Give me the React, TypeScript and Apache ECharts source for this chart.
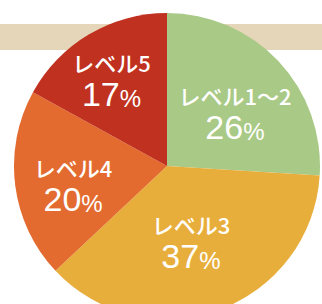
import React, { useEffect, useRef } from "react";
import * as echarts from "echarts";

const categories = ["レベル1〜2", "レベル3", "レベル4", "レベル5"];
const values = [26, 37, 20, 17];
const colors = ["#a9c986", "#e8ae3c", "#e36b30", "#c0311f"];
const labelOffsets: [number, number][] = [
  [10, 0],
  [-3, 0],
  [-15, 8],
  [-15, -19],
];

export default function App() {
  const ref = useRef<HTMLDivElement>(null);
  useEffect(() => {
    if (!ref.current) return;
    const chart = echarts.init(ref.current, null, { renderer: "svg" });
    chart.setOption({
      animation: false,
      backgroundColor: "#ffffff",
      graphic: [
        {
          type: "rect",
          z: -10,
          shape: { x: 0, y: 24, width: 322, height: 26 },
          style: { fill: "#e6d6b9" },
        },
      ],
      series: [
        {
          type: "pie",
          center: [167, 166],
          radius: [0, 153],
          startAngle: 90,
          clockwise: true,
          silent: true,
          itemStyle: { borderWidth: 0 },
          labelLine: { show: false },
          data: categories.map((name, i) => ({
            name,
            value: values[i],
            itemStyle: { color: colors[i] },
            label: { offset: labelOffsets[i] },
          })),
          label: {
            show: true,
            position: "inside",
            color: "#ffffff",
            formatter: (p: any) => `{n|${p.name}}\n{v|${p.value}}{p|%}`,
            rich: {
              n: {
                fontFamily: "Noto Sans CJK JP",
                fontWeight: 500,
                fontSize: 22,
                lineHeight: 30,
                color: "#ffffff",
                align: "center",
              },
              v: {
                fontFamily: "Liberation Sans",
                fontSize: 34,
                lineHeight: 34,
                color: "#ffffff",
              },
              p: {
                fontFamily: "Liberation Sans",
                fontSize: 24,
                lineHeight: 34,
                color: "#ffffff",
                verticalAlign: "bottom",
              },
            },
          },
        },
      ],
    });
    return () => chart.dispose();
  }, []);
  return (
    <div
      ref={ref}
      style={{ position: "fixed", left: 0, top: 0, width: 322, height: 304 }}
    />
  );
}
